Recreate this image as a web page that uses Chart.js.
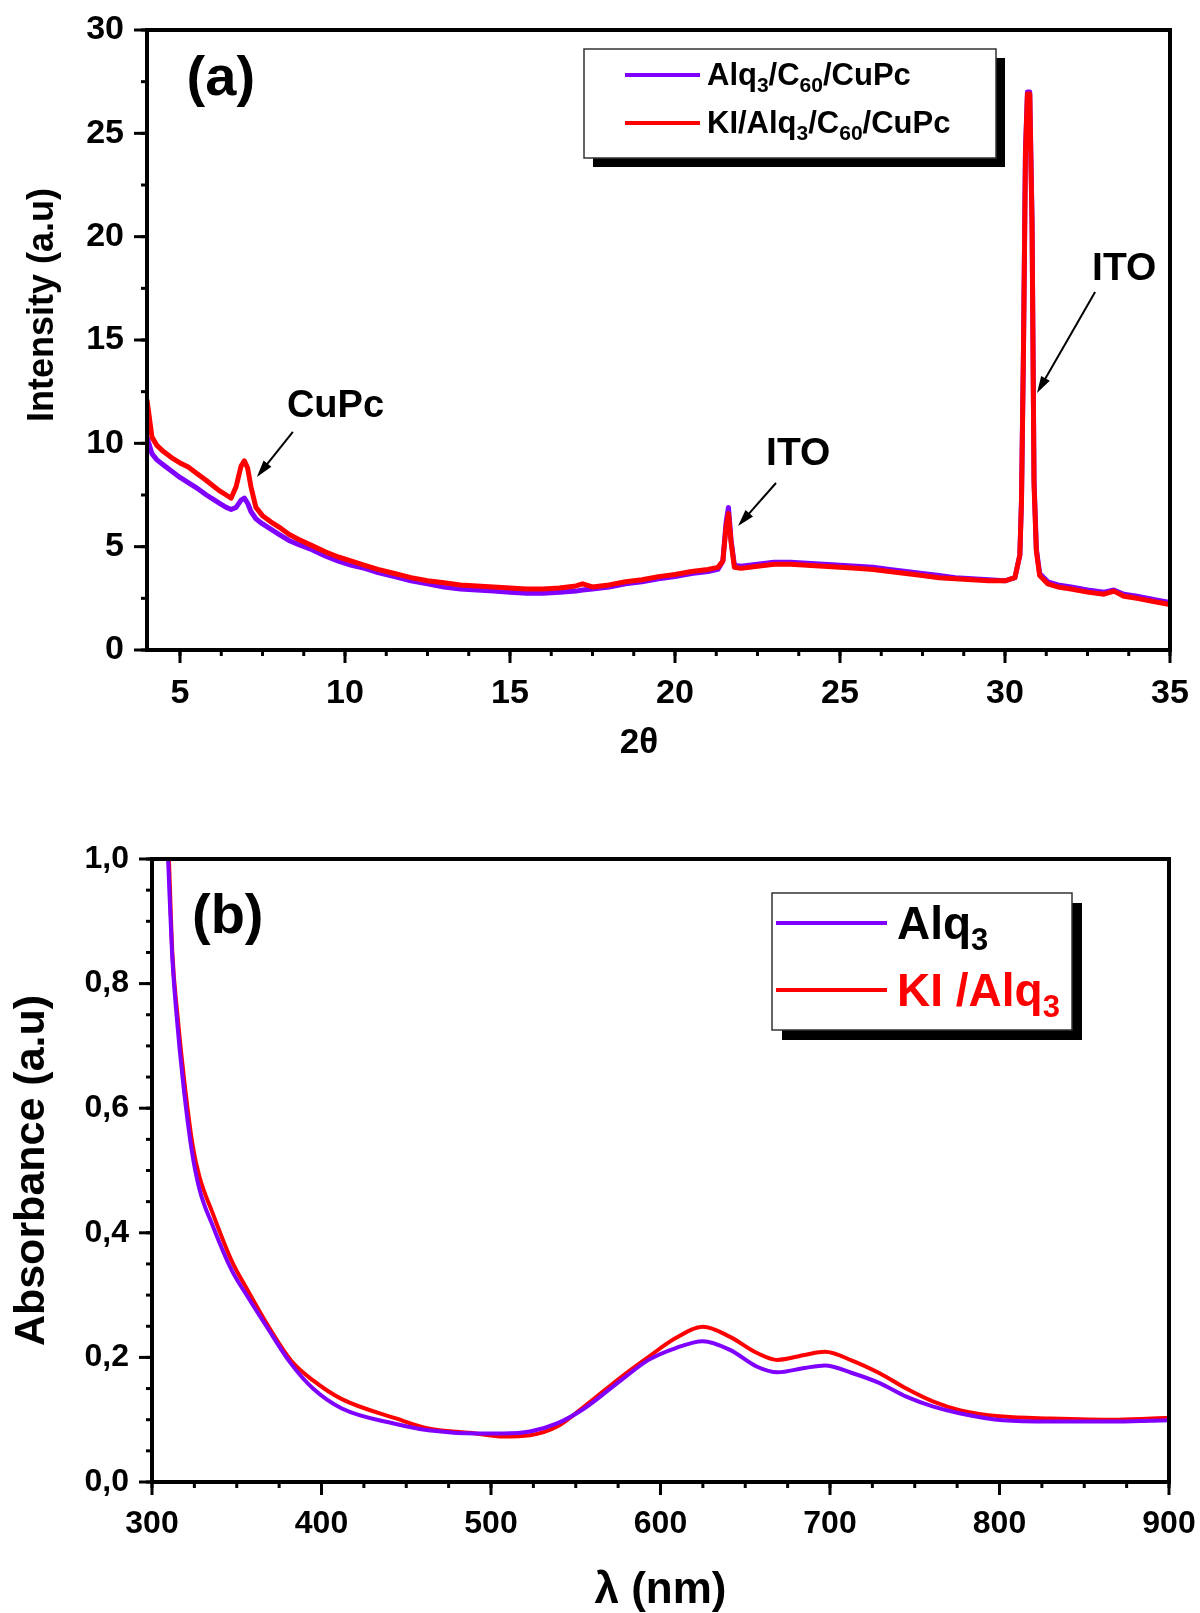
<!DOCTYPE html>
<html><head><meta charset="utf-8">
<script src="https://cdn.jsdelivr.net/npm/chart.js@4.4.1/dist/chart.umd.min.js"></script>
<style>
html,body{margin:0;padding:0;background:#fff;}
#wrapA{position:absolute;left:0;top:0;width:1200px;height:800px;}
#wrapB{position:absolute;left:0;top:800px;width:1200px;height:813px;}
</style></head><body>
<div id="wrapA"><canvas id="cA" width="1200" height="800"></canvas></div>
<div id="wrapB"><canvas id="cB" width="1200" height="813"></canvas></div>
<script>
// ---------- DATA (a): XRD ----------
const seriesA = ['Alq_{3}/C_{60}/CuPc', 'KI/Alq_{3}/C_{60}/CuPc'];
const twoTheta = [4.0,4.15,4.3,4.5,4.75,5.0,5.25,5.5,5.8,6.0,6.2,6.4,6.55,6.7,6.85,6.95,7.05,7.15,7.3,7.5,7.75,8.0,8.3,8.6,9.0,9.4,9.8,10.2,10.6,11.0,11.5,12.0,12.5,13.0,13.5,14.0,14.5,15.0,15.5,16.0,16.5,17.0,17.2,17.5,18.0,18.5,19.0,19.5,20.0,20.5,21.0,21.3,21.45,21.55,21.62,21.7,21.8,22.0,22.5,23.0,23.5,24.0,24.5,25.0,25.5,26.0,26.5,27.0,27.5,28.0,28.5,29.0,29.5,30.0,30.3,30.45,30.5,30.56,30.62,30.68,30.75,30.82,30.88,30.95,31.05,31.3,31.6,32.0,32.5,33.0,33.3,33.6,34.0,34.5,35.0];
const intensAlq = [10.3,9.5,9.2,8.95,8.65,8.35,8.1,7.85,7.5,7.3,7.1,6.9,6.8,6.9,7.25,7.35,7.1,6.7,6.35,6.1,5.85,5.6,5.3,5.1,4.85,4.55,4.3,4.1,3.95,3.75,3.55,3.35,3.2,3.05,2.95,2.9,2.85,2.8,2.75,2.75,2.8,2.85,2.9,2.95,3.05,3.2,3.3,3.45,3.55,3.7,3.8,3.9,4.3,6.2,6.9,5.3,4.1,4.05,4.15,4.25,4.25,4.2,4.15,4.1,4.05,4.0,3.9,3.8,3.7,3.6,3.5,3.45,3.4,3.35,3.5,4.6,7.3,14.6,24.2,27.0,27.0,20.8,8.2,4.9,3.7,3.3,3.15,3.05,2.9,2.8,2.9,2.7,2.6,2.45,2.3];
const intensKI = [12.1,10.3,9.9,9.6,9.3,9.05,8.85,8.55,8.2,7.95,7.7,7.5,7.35,7.9,8.9,9.15,8.8,7.9,6.9,6.5,6.2,5.95,5.6,5.35,5.05,4.75,4.5,4.3,4.1,3.9,3.7,3.5,3.35,3.25,3.15,3.1,3.05,3.0,2.95,2.95,3.0,3.1,3.2,3.05,3.15,3.3,3.4,3.55,3.65,3.8,3.9,4.0,4.3,6.0,6.6,5.2,4.0,3.95,4.05,4.15,4.15,4.1,4.05,4.0,3.95,3.9,3.8,3.7,3.6,3.5,3.45,3.4,3.35,3.35,3.5,4.6,7.2,14.5,24.0,26.9,26.9,20.5,8.0,4.8,3.6,3.2,3.05,2.95,2.8,2.7,2.85,2.6,2.5,2.35,2.2];
const xTicksA = [5,10,15,20,25,30,35];
const xTickLabelsA = ['5','10','15','20','25','30','35'];
const yTicksA = [0,5,10,15,20,25,30];
const yTickLabelsA = ['0','5','10','15','20','25','30'];

// ---------- DATA (b): UV-Vis ----------
const seriesB = ['Alq_{3}', 'KI /Alq_{3}'];
const lambdaAlq = [309.5,311.8,314.6,318.4,323.4,328,336,347,357,367.5,382,395,412,444,463,491,507,523,539,555,577,593,609,625,641,657,669,685,697,713,729,745,761,777,802,830,870,900];
const absAlq = [1.0,0.85,0.746,0.64,0.533,0.47,0.41,0.34,0.295,0.25,0.19,0.15,0.118,0.093,0.083,0.078,0.078,0.081,0.094,0.118,0.164,0.196,0.215,0.226,0.212,0.185,0.176,0.183,0.187,0.175,0.159,0.137,0.121,0.110,0.099,0.097,0.097,0.099];
const lambdaKI = [310,312,315,319,324,328,336,347,357,367.5,382,395,412,444,463,491,507,523,539,555,577,593,609,625,641,657,669,685,697,713,729,745,761,777,802,830,870,900];
const absKI = [1.0,0.85,0.75,0.645,0.54,0.49,0.43,0.355,0.305,0.255,0.195,0.163,0.133,0.102,0.086,0.078,0.073,0.075,0.089,0.121,0.169,0.201,0.231,0.249,0.233,0.207,0.196,0.204,0.209,0.195,0.175,0.150,0.129,0.115,0.105,0.102,0.100,0.103];
const xTicksB = [300,400,500,600,700,800,900];
const xTickLabelsB = ['300','400','500','600','700','800','900'];
const yTicksB = [0,0.2,0.4,0.6,0.8,1.0];
const yTickLabelsB = ['0,0','0,2','0,4','0,6','0,8','1,0'];

// ---------- STYLE ----------
const FF = "'Liberation Sans', Arial, Helvetica, sans-serif";
const PURPLE = '#7F00FF';
const RED = '#FF0000';

function parseRich(s){
  const out=[]; const re=/_\{([^}]*)\}/g; let last=0, m;
  while((m=re.exec(s))){ if(m.index>last) out.push({t:s.slice(last,m.index),sub:false}); out.push({t:m[1],sub:true}); last=re.lastIndex; }
  if(last<s.length) out.push({t:s.slice(last),sub:false});
  return out;
}
const plain = s => s.replace(/_\{([^}]*)\}/g,'$1');
function drawRich(ctx, s, x, y, size, subSize, color){
  let cx=x;
  for(const seg of parseRich(s)){
    ctx.font = `bold ${seg.sub?subSize:size}px ${FF}`;
    ctx.fillStyle=color;
    ctx.fillText(seg.t, cx, y + (seg.sub? size*0.24:0));
    cx += ctx.measureText(seg.t).width;
  }
}
function arrow(ctx,x1,y1,x2,y2){
  const ang=Math.atan2(y2-y1,x2-x1), L=17, W=5;
  ctx.strokeStyle='#000'; ctx.fillStyle='#000'; ctx.lineWidth=2;
  ctx.beginPath(); ctx.moveTo(x1,y1); ctx.lineTo(x2-L*0.7*Math.cos(ang), y2-L*0.7*Math.sin(ang)); ctx.stroke();
  ctx.beginPath(); ctx.moveTo(x2,y2);
  ctx.lineTo(x2-L*Math.cos(ang)+W*Math.sin(ang), y2-L*Math.sin(ang)-W*Math.cos(ang));
  ctx.lineTo(x2-L*Math.cos(ang)-W*Math.sin(ang), y2-L*Math.sin(ang)+W*Math.cos(ang));
  ctx.closePath(); ctx.fill();
}

// frame + major/minor tick marks, positioned through the chart's scales
const frameTicks = {
  id:'frameTicks',
  afterDatasetsDraw(chart, args, o){
    const {ctx, chartArea:a, scales:{x:xs, y:ys}} = chart;
    ctx.save();
    ctx.strokeStyle='#000'; ctx.lineCap='butt';
    ctx.lineWidth=3;
    const tick=(isX,v,len)=>{
      ctx.beginPath();
      if(isX){ const p=xs.getPixelForValue(v); ctx.moveTo(p,a.bottom); ctx.lineTo(p,a.bottom+len); }
      else { const p=ys.getPixelForValue(v); ctx.moveTo(a.left,p); ctx.lineTo(a.left-len,p); }
      ctx.stroke();
    };
    for(let v=Math.ceil(xs.min/o.xMinor)*o.xMinor; v<=xs.max+1e-9; v+=o.xMinor) tick(true,v,6);
    for(let v=Math.ceil(ys.min/o.yMinor)*o.yMinor; v<=ys.max+1e-9; v+=o.yMinor) tick(false,v,6);
    xs.ticks.forEach(t=>tick(true,t.value,13));
    ys.ticks.forEach(t=>tick(false,t.value,13));
    ctx.lineWidth=4;
    ctx.strokeRect(a.left,a.top,a.right-a.left,a.bottom-a.top);
    ctx.restore();
  }
};

// annotations + custom legend box with shadow
const notes = {
  id:'notes',
  afterDraw(chart, args, o){
    const {ctx, scales:{x:xs,y:ys}} = chart;
    ctx.save();
    ctx.textBaseline='alphabetic'; ctx.textAlign='left';
    (o.texts||[]).forEach(t=>{
      ctx.font=`bold ${t.size}px ${FF}`; ctx.fillStyle='#000';
      ctx.fillText(t.text, xs.getPixelForValue(t.x), ys.getPixelForValue(t.y));
    });
    (o.arrows||[]).forEach(r=>arrow(ctx, xs.getPixelForValue(r.x1), ys.getPixelForValue(r.y1), xs.getPixelForValue(r.x2), ys.getPixelForValue(r.y2)));
    const L=o.legend;
    if(L){
      ctx.fillStyle='#000'; ctx.fillRect(L.x+L.sh, L.y+L.sh, L.w, L.h);
      ctx.fillStyle='#fff'; ctx.fillRect(L.x, L.y, L.w, L.h);
      ctx.strokeStyle='#333'; ctx.lineWidth=1.5; ctx.strokeRect(L.x, L.y, L.w, L.h);
      chart.data.datasets.forEach((ds,i)=>{
        const ly=L.y+L.rows[i];
        ctx.strokeStyle=ds.borderColor; ctx.lineWidth=4;
        ctx.beginPath(); ctx.moveTo(L.x+L.lx1, ly); ctx.lineTo(L.x+L.lx2, ly); ctx.stroke();
        drawRich(ctx, L.labels[i], L.x+L.tx, ly+L.base, L.size, L.sub, L.colors[i]);
      });
    }
    ctx.restore();
  }
};

const tickFont = s => ({family:FF, size:s, weight:'bold'});
const hiddenGrid = {display:true, drawOnChartArea:false, drawTicks:true, tickLength:13, color:'rgba(0,0,0,0)'};
const fitX = h => s => { s.height=h; s.paddingLeft=0; s.paddingRight=0; };
const fitY = w => s => { s.width=w; s.paddingTop=0; s.paddingBottom=0; };

// ---------- CHART (a) ----------
new Chart(document.getElementById('cA'), {
  type:'line',
  data:{datasets:[
    {label:plain(seriesA[0]), data:twoTheta.map((x,i)=>({x, y:intensAlq[i]})), borderColor:PURPLE, backgroundColor:PURPLE, borderWidth:5, borderJoinStyle:'round', pointRadius:0, tension:0, order:1},
    {label:plain(seriesA[1]), data:twoTheta.map((x,i)=>({x, y:intensKI[i]})), borderColor:RED, backgroundColor:RED, borderWidth:5, borderJoinStyle:'round', pointRadius:0, tension:0, order:0}
  ]},
  options:{
    responsive:false, animation:false, devicePixelRatio:1,
    layout:{padding:{top:30, right:30, left:0, bottom:0}},
    plugins:{
      legend:{display:false}, tooltip:{enabled:false},
      frameTicks:{xMinor:1.25, yMinor:2.5},
      notes:{
        texts:[
          {text:'(a)', x:5.2, y:26.85, size:56},
          {text:'CuPc', x:8.24, y:11.27, size:38},
          {text:'ITO', x:22.76, y:8.95, size:39},
          {text:'ITO', x:32.64, y:17.9, size:39}
        ],
        arrows:[
          {x1:8.42, y1:10.55, x2:7.33, y2:8.37},
          {x1:23.06, y1:8.08, x2:21.91, y2:6.0},
          {x1:32.73, y1:17.32, x2:30.97, y2:12.43}
        ],
        legend:{x:584, y:49, w:412, h:109, sh:9, rows:[26,74], lx1:41, lx2:116, tx:123, base:10, size:31, sub:21, labels:seriesA, colors:['#000','#000']}
      }
    },
    scales:{
      x:{type:'linear', min:4, max:35,
         afterBuildTicks:s=>{s.ticks=xTicksA.map(v=>({value:v}));},
         afterFit:fitX(150),
         grid:hiddenGrid, border:{display:false},
         ticks:{padding:10, color:'#000', font:tickFont(34), maxRotation:0, autoSkip:false, callback:(v,i)=>xTickLabelsA[i]},
         title:{display:true, text:'2θ\u00a0\u00a0\u00a0\u00a0', color:'#000', font:{family:FF, size:35, weight:'bold'}, padding:{top:0,bottom:36}}},
      y:{type:'linear', min:0, max:30,
         afterBuildTicks:s=>{s.ticks=yTicksA.map(v=>({value:v}));},
         afterFit:fitY(147),
         grid:hiddenGrid, border:{display:false},
         ticks:{padding:10, color:'#000', font:tickFont(34), autoSkip:false, callback:(v,i)=>yTickLabelsA[i]},
         title:{display:true, text:'\u00a0\u00a0\u00a0\u00a0\u00a0\u00a0\u00a0Intensity (a.u)', color:'#000', font:{family:FF, size:36, weight:'bold'}, padding:{top:21,bottom:0}}}
    }
  },
  plugins:[frameTicks, notes]
});

// ---------- CHART (b) ----------
new Chart(document.getElementById('cB'), {
  type:'line',
  data:{datasets:[
    {label:plain(seriesB[0]), data:lambdaAlq.map((x,i)=>({x, y:absAlq[i]})), borderColor:PURPLE, backgroundColor:PURPLE, borderWidth:4, pointRadius:0, cubicInterpolationMode:'monotone', order:0},
    {label:plain(seriesB[1]), data:lambdaKI.map((x,i)=>({x, y:absKI[i]})), borderColor:RED, backgroundColor:RED, borderWidth:4, pointRadius:0, cubicInterpolationMode:'monotone', order:1}
  ]},
  options:{
    responsive:false, animation:false, devicePixelRatio:1,
    layout:{padding:{top:59, right:31, left:0, bottom:0}},
    plugins:{
      legend:{display:false}, tooltip:{enabled:false},
      frameTicks:{xMinor:25, yMinor:0.05},
      notes:{
        texts:[{text:'(b)', x:323.6, y:0.881, size:56}],
        legend:{x:772, y:93, w:300, h:137, sh:10, rows:[30,97], lx1:4, lx2:115, tx:125, base:16, size:46, sub:31, labels:seriesB, colors:['#000', RED]}
      }
    },
    scales:{
      x:{type:'linear', min:300, max:900,
         afterBuildTicks:s=>{s.ticks=xTicksB.map(v=>({value:v}));},
         afterFit:fitX(131),
         grid:hiddenGrid, border:{display:false},
         ticks:{padding:10, color:'#000', font:tickFont(32), maxRotation:0, autoSkip:false, callback:(v,i)=>xTickLabelsB[i]},
         title:{display:true, text:'λ (nm)', color:'#000', font:{family:FF, size:44, weight:'bold', lineHeight:1.0}, padding:{top:0,bottom:0}}},
      y:{type:'linear', min:0, max:1,
         afterBuildTicks:s=>{s.ticks=yTicksB.map(v=>({value:v}));},
         afterFit:fitY(152),
         grid:hiddenGrid, border:{display:false},
         ticks:{padding:10, color:'#000', font:tickFont(32), autoSkip:false, callback:(v,i)=>yTickLabelsB[i]},
         title:{display:true, text:'Absorbance (a.u)', color:'#000', font:{family:FF, size:43, weight:'bold'}, padding:{top:6,bottom:0}}}
    }
  },
  plugins:[frameTicks, notes]
});
</script>
</body></html>
